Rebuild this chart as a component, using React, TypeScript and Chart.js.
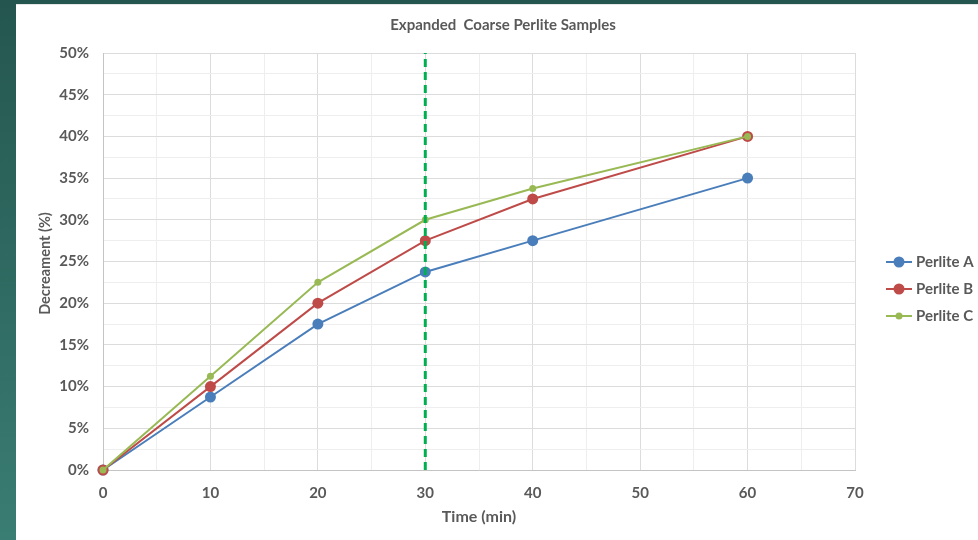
import React, { useEffect, useRef } from 'react';
import { Chart, registerables } from 'chart.js';

Chart.register(...registerables);

const timeMin = [0, 10, 20, 30, 40, 60];
const perliteA = [0, 8.75, 17.5, 23.75, 27.5, 35];
const perliteB = [0, 10, 20, 27.5, 32.5, 40];
const perliteC = [0, 11.25, 22.5, 30, 33.75, 40];
const markerTime = [30, 30];
const markerRange = [0, 50];
const seriesNames = ['Perlite A', 'Perlite B', 'Perlite C'];
const seriesColors = ['#4a7ebb', '#be4b48', '#98b954'];
const seriesRadius = [5.5, 5.5, 3.5];
const chartTitle = 'Expanded  Coarse Perlite Samples';
const xTitle = 'Time (min)';
const yTitle = 'Decreament (%)';

const FONT = 'Lato, "Open Sans", sans-serif';
const TEXT = '#595959';

const pts = (xs: number[], ys: number[]) => xs.map((x, i) => ({ x, y: ys[i] }));

const textPlugin = {
  id: 'customText',
  afterDraw(chart: any) {
    const ctx = chart.ctx;
    const area = chart.chartArea;
    ctx.save();
    ctx.fillStyle = TEXT;
    ctx.textAlign = 'center';
    ctx.textBaseline = 'middle';
    ctx.font = `bold 15px ${FONT}`;
    ctx.fillText(chartTitle, 487, 21);
    ctx.font = `bold 16px ${FONT}`;
    ctx.fillText(xTitle, (area.left + area.right) / 2, 513);
    ctx.save();
    ctx.translate(29, (area.top + area.bottom) / 2 + 2);
    ctx.rotate(-Math.PI / 2);
    ctx.font = `bold 14.5px ${FONT}`;
    ctx.fillText(yTitle, 0, 0);
    ctx.restore();
    // legend
    seriesNames.forEach((name, i) => {
      const y = 258 + i * 27;
      ctx.strokeStyle = seriesColors[i];
      ctx.lineWidth = 2;
      ctx.beginPath();
      ctx.moveTo(870, y);
      ctx.lineTo(896, y);
      ctx.stroke();
      ctx.fillStyle = seriesColors[i];
      ctx.beginPath();
      ctx.arc(883, y, seriesRadius[i], 0, Math.PI * 2);
      ctx.fill();
      ctx.fillStyle = TEXT;
      ctx.textAlign = 'left';
      ctx.font = `bold 15px ${FONT}`;
      ctx.fillText(name, 900, y);
    });
    ctx.restore();
  },
};

export default function App() {
  const ref = useRef<HTMLCanvasElement>(null);
  useEffect(() => {
    document.body.style.margin = '0';
    const seriesData = [perliteA, perliteB, perliteC];
    const seriesSets = seriesData.map((d, i) => ({
      label: seriesNames[i],
      data: pts(timeMin, d),
      borderColor: seriesColors[i],
      backgroundColor: seriesColors[i],
      borderWidth: 2,
      pointRadius: seriesRadius[i],
      pointBorderWidth: 0,
      tension: 0,
      clip: false,
    }));
    const chart = new Chart(ref.current!, {
      type: 'line',
      data: {
        datasets: [
          {
            label: 'marker',
            data: pts(markerTime, markerRange),
            borderColor: '#00b050',
            borderWidth: 3,
            borderDash: [8, 5],
            pointRadius: 0,
            clip: false,
          },
          seriesSets[2],
          seriesSets[1],
          seriesSets[0],
        ] as any,
      },
      options: {
        responsive: false,
        animation: false,
        layout: { padding: { top: 49, right: 123, bottom: 0, left: 0 } },
        plugins: { legend: { display: false }, tooltip: { enabled: false }, title: { display: false } },
        scales: {
          x: {
            type: 'linear',
            min: 0,
            max: 70,
            afterFit: (s: any) => { s.height = 70; },
            ticks: {
              stepSize: 5,
              autoSkip: false,
              maxRotation: 0,
              padding: 14,
              color: TEXT,
              font: { family: FONT, size: 15, weight: 'bold' },
              callback: (v: any) => (v % 10 === 0 ? String(v) : ''),
            },
            grid: {
              drawTicks: false,
              color: (c: any) => (c.tick && c.tick.value % 10 === 0 ? '#dcdcdc' : '#eeeeee'),
            },
            border: { color: '#c4c4c4' },
          },
          y: {
            min: 0,
            max: 50,
            afterFit: (s: any) => { s.width = 87; },
            ticks: {
              stepSize: 2.5,
              autoSkip: false,
              padding: 14,
              color: TEXT,
              font: { family: FONT, size: 15, weight: 'bold' },
              callback: (v: any) => (v % 5 === 0 ? v + '%' : ''),
            },
            grid: {
              drawTicks: false,
              color: (c: any) => (c.tick && c.tick.value % 5 === 0 ? '#dcdcdc' : '#eeeeee'),
            },
            border: { color: '#c4c4c4' },
          },
        },
      } as any,
      plugins: [textPlugin],
    });
    return () => chart.destroy();
  }, []);

  return (
    <div style={{ position: 'relative', width: 978, height: 540, background: 'linear-gradient(180deg, #24564f 0%, #3a7d73 100%)', overflow: 'hidden' }}>
      <div style={{ position: 'absolute', left: 16, top: 4, width: 962, height: 536, background: '#ffffff', borderTop: '1px solid #e6e6e6', boxSizing: 'border-box' }} />
      <canvas ref={ref} width={962} height={536} style={{ position: 'absolute', left: 16, top: 4, width: 962, height: 536 }} />
    </div>
  );
}
